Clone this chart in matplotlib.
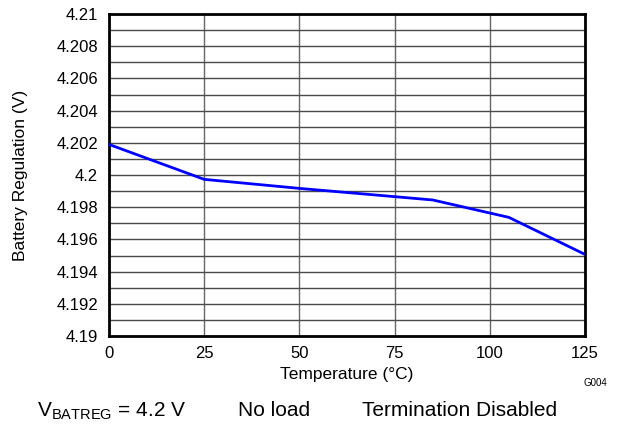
import matplotlib
matplotlib.use('Agg')
import matplotlib.pyplot as plt
from matplotlib.ticker import MultipleLocator, FuncFormatter

# Datos
temp = [0, 25, 50, 85, 105, 125]
vreg = [4.2019, 4.19973, 4.19917, 4.19845, 4.19737, 4.19507]

plt.rcParams['font.family'] = ['Liberation Sans', 'DejaVu Sans']

fig = plt.figure(figsize=(6.18, 4.25), dpi=100)
ax = fig.add_axes([0.1764, 0.2094, 0.7702, 0.7576])

ax.plot(temp, vreg, color='#0000ff', linewidth=2, zorder=3)

ax.set_xlim(0, 125)
ax.set_ylim(4.19, 4.21)
ax.xaxis.set_major_locator(MultipleLocator(25))
ax.yaxis.set_major_locator(MultipleLocator(0.002))
ax.yaxis.set_minor_locator(MultipleLocator(0.001))
ax.yaxis.set_major_formatter(FuncFormatter(lambda v, p: '{0:g}'.format(round(v, 3))))

# Grilla
ax.grid(True, axis='y', which='both', color='#4a4a4a', linewidth=1)
ax.grid(True, axis='x', which='major', color='#666666', linewidth=1)
ax.tick_params(which='both', length=0, labelsize=12, colors='black')
ax.tick_params(axis='x', pad=7)
ax.tick_params(axis='y', pad=8)

for s in ax.spines.values():
    s.set_linewidth(2)
    s.set_color('black')

# Etiquetas
fig.text(21 / 618., 0.588, 'Battery Regulation (V)', fontsize=12.5,
         rotation=90, ha='center', va='center')
fig.text(347 / 618., 1 - 374 / 425., u'Temperature (°C)', fontsize=12.5,
         ha='center', va='center')
fig.text(595 / 618., 1 - 383.5 / 425., 'G004', fontsize=7, ha='center',
         va='center')

# Notas
fig.text(37 / 618., 0.0212, r'V$_{\mathregular{BATREG}}$ = 4.2 V', fontsize=15,
         ha='left', va='baseline')
fig.text(238 / 618., 0.0212, 'No load', fontsize=15, ha='left', va='baseline')
fig.text(362 / 618., 0.0212, 'Termination Disabled', fontsize=15, ha='left',
         va='baseline')

fig.savefig('out.png', dpi=100)
